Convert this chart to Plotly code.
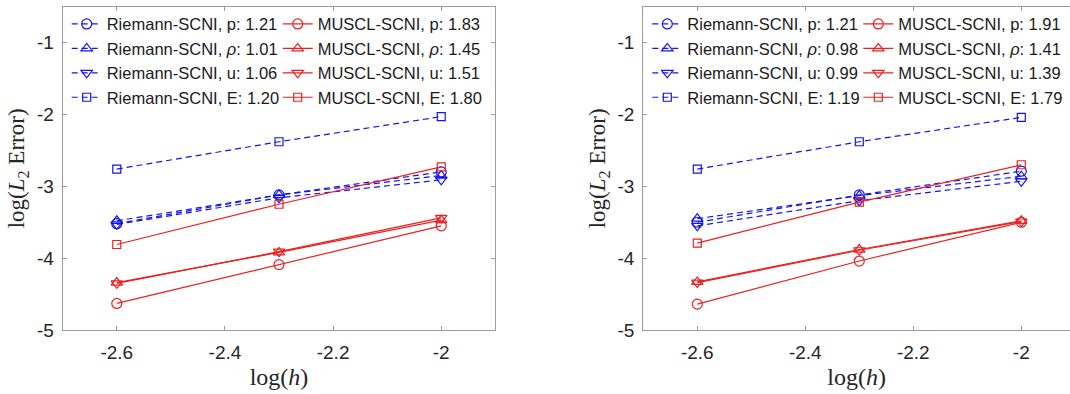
import plotly.graph_objects as go

# log(h) sample points
log_h = [-2.6, -2.3, -2.0]

# left panel: log(L2 error) per variable
left_riemann_p = [-3.52, -3.12, -2.80]
left_riemann_rho = [-3.48, -3.12, -2.85]
left_riemann_u = [-3.53, -3.16, -2.91]
left_riemann_E = [-2.76, -2.38, -2.03]
left_muscl_p = [-4.63, -4.09, -3.55]
left_muscl_rho = [-4.34, -3.92, -3.47]
left_muscl_u = [-4.35, -3.91, -3.44]
left_muscl_E = [-3.81, -3.25, -2.73]

# right panel
right_riemann_p = [-3.50, -3.12, -2.79]
right_riemann_rho = [-3.45, -3.13, -2.86]
right_riemann_u = [-3.55, -3.20, -2.93]
right_riemann_E = [-2.76, -2.38, -2.04]
right_muscl_p = [-4.64, -4.04, -3.50]
right_muscl_rho = [-4.33, -3.88, -3.48]
right_muscl_u = [-4.34, -3.89, -3.49]
right_muscl_E = [-3.79, -3.22, -2.70]

# convergence rates shown in the legends
left_riemann_rates = ["1.21", "1.01", "1.06", "1.20"]
left_muscl_rates = ["1.83", "1.45", "1.51", "1.80"]
right_riemann_rates = ["1.21", "0.98", "0.99", "1.19"]
right_muscl_rates = ["1.91", "1.41", "1.39", "1.79"]

variables = ["p", "<i>ρ</i>", "u", "E"]
symbols = ["circle-open", "triangle-up-open", "triangle-down-open", "square-open"]
sizes = [10, 10, 10, 8]

BLUE = "#1414ee"
RED = "#ec2020"
AXIS = "#9a9a9a"
TEXT = "#262626"
SANS = "Liberation Sans, Arial, sans-serif"
SERIF = "Liberation Serif, Times New Roman, serif"

fig = go.Figure()


def add_panel(xa, ya, riemann, muscl, r_rates, m_rates, leg_r, leg_m):
    for i, (vals, rate) in enumerate(zip(riemann, r_rates)):
        fig.add_trace(go.Scatter(
            x=log_h, y=vals, mode="lines+markers",
            name=f"Riemann-SCNI, {variables[i]}: {rate}",
            line=dict(color=BLUE, width=1.2, dash="6px,4px"),
            marker=dict(symbol=symbols[i], size=sizes[i], color=BLUE,
                        line=dict(width=1.2, color=BLUE)),
            xaxis=xa, yaxis=ya, legend=leg_r))
    for i, (vals, rate) in enumerate(zip(muscl, m_rates)):
        fig.add_trace(go.Scatter(
            x=log_h, y=vals, mode="lines+markers",
            name=f"MUSCL-SCNI, {variables[i]}: {rate}",
            line=dict(color=RED, width=1.2),
            marker=dict(symbol=symbols[i], size=sizes[i], color=RED,
                        line=dict(width=1.2, color=RED)),
            xaxis=xa, yaxis=ya, legend=leg_m))


add_panel("x", "y",
          [left_riemann_p, left_riemann_rho, left_riemann_u, left_riemann_E],
          [left_muscl_p, left_muscl_rho, left_muscl_u, left_muscl_E],
          left_riemann_rates, left_muscl_rates, "legend", "legend2")
add_panel("x2", "y2",
          [right_riemann_p, right_riemann_rho, right_riemann_u, right_riemann_E],
          [right_muscl_p, right_muscl_rho, right_muscl_u, right_muscl_E],
          right_riemann_rates, right_muscl_rates, "legend3", "legend4")

W, H = 1070, 394
left_dom = [62.7 / W, 495.3 / W]
right_dom = [643.3 / W, 1.0]
y_dom = [(H - 330) / H, (H - 6.7) / H]

xcommon = dict(
    tickvals=[-2.6, -2.4, -2.2, -2.0], ticktext=["-2.6", "-2.4", "-2.2", "-2"],
    showline=True, linecolor=AXIS, linewidth=1.2, ticks="inside", ticklen=4,
    tickcolor=AXIS, tickfont=dict(family=SANS, size=19, color=TEXT),
    showgrid=False, zeroline=False, ticklabelstandoff=5,
    title=dict(text="log(<i>h</i>)", font=dict(family=SERIF, size=24, color=TEXT),
               standoff=6),
    automargin=False)
ycommon = dict(
    range=[-5, -0.5], tickvals=[-5, -4, -3, -2, -1],
    ticktext=["-5", "-4", "-3", "-2", "-1"],
    showline=True, linecolor=AXIS, linewidth=1.2, ticks="inside", ticklen=4,
    tickcolor=AXIS, tickfont=dict(family=SANS, size=19, color=TEXT),
    showgrid=False, zeroline=False, ticklabelstandoff=4,
    title=dict(text="log(<i>L</i><sub>2</sub> Error)",
               font=dict(family=SERIF, size=23, color=TEXT), standoff=5),
    automargin=False, domain=y_dom)

legend_common = dict(
    bgcolor="rgba(0,0,0,0)", borderwidth=0, xanchor="left", yanchor="top",
    font=dict(family=SANS, size=16.5, color="#1a1a1a"), tracegroupgap=0,
    itemwidth=30)

fig.update_layout(
    width=W, height=H, margin=dict(l=0, r=0, t=0, b=0),
    paper_bgcolor="white", plot_bgcolor="white", showlegend=True,
    xaxis=dict(**xcommon, domain=left_dom, range=[-2.7, -1.9],
               mirror="ticks", anchor="y"),
    yaxis=dict(**ycommon, anchor="x", mirror="ticks"),
    xaxis2=dict(**xcommon, domain=right_dom,
                range=[-2.7, -2.7 + (W - 643.3) / 540.0], mirror="ticks",
                anchor="y2"),
    yaxis2=dict(**ycommon, anchor="x2", mirror=False),
    legend=dict(**legend_common, x=left_dom[0] + 4 / W, y=y_dom[1]),
    legend2=dict(**legend_common, x=left_dom[0] + 215 / W, y=y_dom[1]),
    legend3=dict(**legend_common, x=right_dom[0] + 4 / W, y=y_dom[1]),
    legend4=dict(**legend_common, x=right_dom[0] + 215 / W, y=y_dom[1]),
)

fig.write_html("out.html")
